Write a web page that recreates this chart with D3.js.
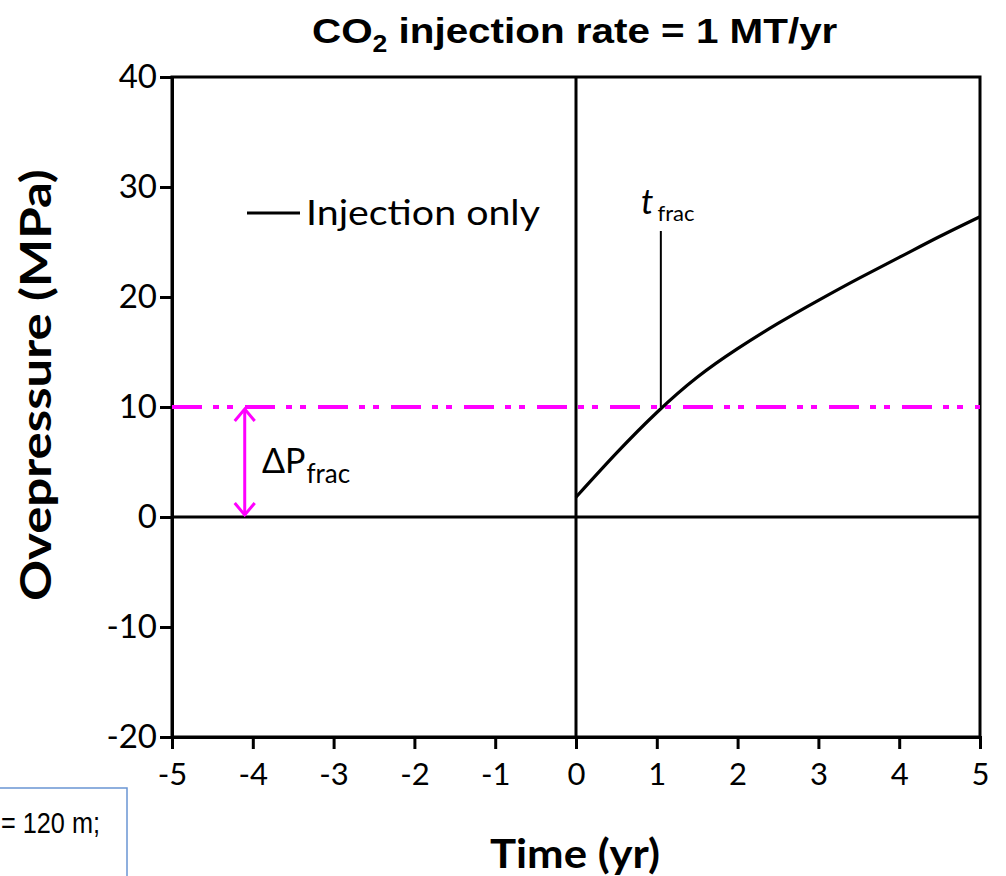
<!DOCTYPE html>
<html>
<head>
<meta charset="utf-8">
<script src="https://cdn.jsdelivr.net/npm/d3@7"></script>
<style>
  html, body { margin: 0; padding: 0; background: #fff; }
  svg { display: block; }
</style>
</head>
<body>
<svg id="chart" width="1006" height="876"></svg>
<script>
// Injection-only overpressure history (time in years, overpressure in MPa)
const timeYr = [0, 0.5, 1.0, 1.5, 2.0, 2.5, 3.0, 3.5, 4.0, 4.5, 5.0];
const overpressureMPa = [1.8, 5.8, 9.5, 12.7, 15.3, 17.6, 19.7, 21.7, 23.6, 25.5, 27.3];

// Fracture threshold and the time it is reached
const deltaPfrac = 10;
const tFrac = 1.05;
const markerTopValue = 26;   // top of the t_frac marker line (MPa)

// Axis ticks
const xTicks = [-5, -4, -3, -2, -1, 0, 1, 2, 3, 4, 5];
const yTicks = [-20, -10, 0, 10, 20, 30, 40];

const svg = d3.select("#chart");
const plot = { left: 172, right: 980, top: 77, bottom: 737 };

const x = d3.scaleLinear().domain([-5, 5]).range([plot.left, plot.right]);
const y = d3.scaleLinear().domain([-20, 40]).range([plot.bottom, plot.top]);

const tickFont = "Lato, 'Open Sans', sans-serif";

// squeeze or stretch a text element horizontally to a target width
function fitWidth(sel, width, anchorX) {
  const w = sel.node().getBBox().width;
  const s = width / w;
  sel.attr("transform", `translate(${anchorX},0) scale(${s},1) translate(${-anchorX},0)`);
}

// Frame
svg.append("rect")
  .attr("x", plot.left).attr("y", plot.top)
  .attr("width", plot.right - plot.left).attr("height", plot.bottom - plot.top)
  .attr("fill", "none").attr("stroke", "#000").attr("stroke-width", 3);

// X axis (bottom)
const xAxis = svg.append("g")
  .attr("transform", `translate(0,${plot.bottom})`)
  .call(d3.axisBottom(x).tickValues(xTicks).tickSize(12).tickPadding(14).tickFormat(d3.format("d")));
xAxis.select(".domain").attr("stroke-width", 3);
xAxis.selectAll(".tick line").attr("stroke-width", 3);
xAxis.selectAll(".tick text")
  .attr("font-family", tickFont).attr("font-size", 31).attr("fill", "#000")
  .text(d => d < 0 ? "-" + Math.abs(d) : String(d));

// Y axis (left)
const yAxis = svg.append("g")
  .attr("transform", `translate(${plot.left},0)`)
  .call(d3.axisLeft(y).tickValues(yTicks).tickSize(12).tickPadding(3).tickFormat(d3.format("d")));
yAxis.select(".domain").attr("stroke-width", 3);
yAxis.selectAll(".tick line").attr("stroke-width", 3);
yAxis.selectAll(".tick text")
  .attr("font-family", tickFont).attr("font-size", 33).attr("fill", "#000")
  .text(d => d < 0 ? "-" + Math.abs(d) : String(d));

// Zero lines
svg.append("line")
  .attr("x1", plot.left).attr("x2", plot.right)
  .attr("y1", y(0)).attr("y2", y(0))
  .attr("stroke", "#000").attr("stroke-width", 3);
svg.append("line")
  .attr("x1", x(0)).attr("x2", x(0))
  .attr("y1", plot.top).attr("y2", plot.bottom)
  .attr("stroke", "#000").attr("stroke-width", 3);

// Fracture pressure threshold (dash-dot-dot)
svg.append("line")
  .attr("x1", plot.left).attr("x2", plot.right)
  .attr("y1", y(deltaPfrac)).attr("y2", y(deltaPfrac))
  .attr("stroke", "#ff00ff").attr("stroke-width", 4)
  .attr("stroke-dasharray", "30 11 6 8 6 12");

// Injection-only curve
const pts = timeYr.map((t, i) => [t, overpressureMPa[i]]);
svg.append("path")
  .datum(pts)
  .attr("fill", "none").attr("stroke", "#000").attr("stroke-width", 3.2)
  .attr("d", d3.line().x(d => x(d[0])).y(d => y(d[1])).curve(d3.curveNatural));

// t_frac marker
svg.append("line")
  .attr("x1", x(tFrac)).attr("x2", x(tFrac))
  .attr("y1", y(markerTopValue)).attr("y2", y(deltaPfrac))
  .attr("stroke", "#000").attr("stroke-width", 2);
const tLab = svg.append("text")
  .attr("x", 641).attr("y", 214)
  .attr("font-family", tickFont).attr("fill", "#000");
tLab.append("tspan").attr("font-size", 35).attr("font-style", "italic").text("t");
tLab.append("tspan").attr("font-size", 22).attr("dx", 4).attr("dy", 7).text("frac");

// ΔP_frac double arrow
const arrowX = x(-4.1);
const magenta = "#ff00ff";
svg.append("line")
  .attr("x1", arrowX).attr("x2", arrowX)
  .attr("y1", y(deltaPfrac) + 2).attr("y2", y(0) - 2)
  .attr("stroke", magenta).attr("stroke-width", 3);
svg.append("path")
  .attr("d", `M${arrowX - 10},${y(deltaPfrac) + 14} L${arrowX},${y(deltaPfrac) + 2} L${arrowX + 10},${y(deltaPfrac) + 14}`)
  .attr("fill", "none").attr("stroke", magenta).attr("stroke-width", 3);
svg.append("path")
  .attr("d", `M${arrowX - 10},${y(0) - 14} L${arrowX},${y(0) - 2} L${arrowX + 10},${y(0) - 14}`)
  .attr("fill", "none").attr("stroke", magenta).attr("stroke-width", 3);
const dLab = svg.append("text")
  .attr("x", 262).attr("y", 473)
  .attr("font-family", tickFont).attr("fill", "#000");
dLab.append("tspan").attr("font-size", 34).text("ΔP");
dLab.append("tspan").attr("font-size", 26).attr("dx", 1).attr("dy", 10).text("frac");

// Legend
svg.append("line")
  .attr("x1", 247).attr("x2", 300).attr("y1", 213).attr("y2", 213)
  .attr("stroke", "#000").attr("stroke-width", 3);
const legText = svg.append("text")
  .attr("x", 306).attr("y", 225)
  .attr("font-family", tickFont).attr("font-size", 35).attr("fill", "#000")
  .text("Injection only");
fitWidth(legText, 234, 306);

// Title
const title = svg.append("text")
  .attr("x", 312).attr("y", 43)
  .attr("font-family", "'Liberation Sans', Arial, sans-serif")
  .attr("font-weight", "bold").attr("font-size", 35).attr("fill", "#000");
title.append("tspan").text("CO");
title.append("tspan").attr("font-size", 23).attr("dy", 9).text("2");
title.append("tspan").attr("dy", -9).text(" injection rate = 1 MT/yr");
fitWidth(title, 526, 312);

// Axis titles
const xTitle = svg.append("text")
  .attr("x", 490).attr("y", 868)
  .attr("font-family", tickFont).attr("font-weight", "bold")
  .attr("font-size", 40).attr("fill", "#000")
  .text("Time (yr)");
fitWidth(xTitle, 170, 490);

const yTitleG = svg.append("g").attr("transform", "translate(51,601) rotate(-90)");
const yTitle = yTitleG.append("text")
  .attr("x", 0).attr("y", 0)
  .attr("font-family", tickFont).attr("font-weight", "bold")
  .attr("font-size", 42).attr("fill", "#000")
  .text("Ovepressure (MPa)");
fitWidth(yTitle, 432, 0);

// Text box fragment at lower left
svg.append("rect")
  .attr("x", -10).attr("y", 788).attr("width", 137).attr("height", 120)
  .attr("fill", "#fff").attr("stroke", "#6a95d3").attr("stroke-width", 1.5);
const boxText = svg.append("text")
  .attr("x", 1).attr("y", 833)
  .attr("font-family", "'Liberation Sans', Arial, sans-serif")
  .attr("font-size", 30).attr("fill", "#000")
  .text("= 120 m;");
fitWidth(boxText, 99, 1);
</script>
</body>
</html>
